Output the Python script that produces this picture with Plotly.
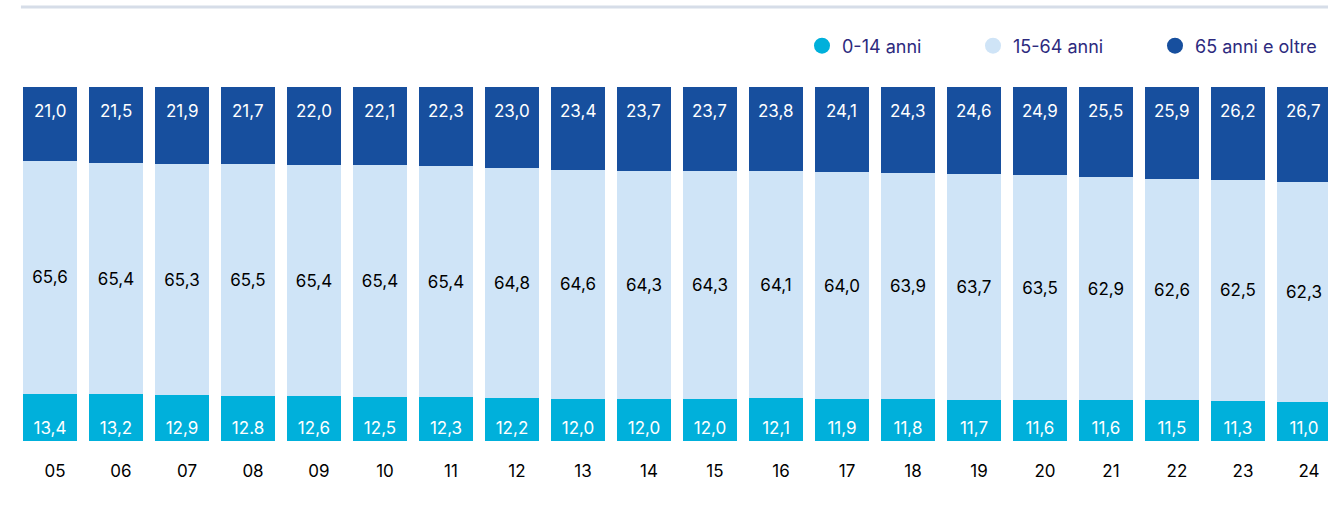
import plotly.graph_objects as go

anni = ["05", "06", "07", "08", "09", "10", "11", "12", "13", "14",
        "15", "16", "17", "18", "19", "20", "21", "22", "23", "24"]

giovani = [13.4, 13.2, 12.9, 12.8, 12.6, 12.5, 12.3, 12.2, 12.0, 12.0,
           12.0, 12.1, 11.9, 11.8, 11.7, 11.6, 11.6, 11.5, 11.3, 11.0]
adulti = [65.6, 65.4, 65.3, 65.5, 65.4, 65.4, 65.4, 64.8, 64.6, 64.3,
          64.3, 64.1, 64.0, 63.9, 63.7, 63.5, 62.9, 62.6, 62.5, 62.3]
anziani = [21.0, 21.5, 21.9, 21.7, 22.0, 22.1, 22.3, 23.0, 23.4, 23.7,
           23.7, 23.8, 24.1, 24.3, 24.6, 24.9, 25.5, 25.9, 26.2, 26.7]

# etichette come nel grafico originale (incluso "12.8")
giovani_txt = ["13,4", "13,2", "12,9", "12.8", "12,6", "12,5", "12,3", "12,2", "12,0", "12,0",
               "12,0", "12,1", "11,9", "11,8", "11,7", "11,6", "11,6", "11,5", "11,3", "11,0"]
adulti_txt = [f"{v:.1f}".replace(".", ",") for v in adulti]
anziani_txt = [f"{v:.1f}".replace(".", ",") for v in anziani]

nomi = ["0-14 anni", "15-64 anni", "65 anni e oltre"]
colori = ["#00b0db", "#cfe4f7", "#174f9e"]

FONT = "Inter"

fig = go.Figure()

fig.add_trace(go.Bar(
    x=anni, y=giovani, name=nomi[0], text=giovani_txt,
    marker=dict(color=colori[0], line=dict(width=0)),
    textposition="inside", insidetextanchor="start",
    textangle=0, constraintext="none",
    textfont=dict(family=FONT, size=17, color="white"),
    showlegend=False, hoverinfo="skip",
))
fig.add_trace(go.Bar(
    x=anni, y=adulti, name=nomi[1], text=adulti_txt,
    marker=dict(color=colori[1], line=dict(width=0)),
    textposition="inside", insidetextanchor="middle",
    textangle=0, constraintext="none",
    textfont=dict(family=FONT, size=17, color="black"),
    showlegend=False, hoverinfo="skip",
))
fig.add_trace(go.Bar(
    x=anni, y=anziani, name=nomi[2],
    marker=dict(color=colori[2], line=dict(width=0)),
    showlegend=False, hoverinfo="skip",
))

# etichette del segmento superiore, un po' sotto il bordo della barra
totali = [a + b + c for a, b, c in zip(giovani, adulti, anziani)]
for i, (tot, t) in enumerate(zip(totali, anziani_txt)):
    fig.add_annotation(
        x=i, y=tot, text=t, showarrow=False,
        yanchor="middle", yshift=-24,
        font=dict(family=FONT, size=17, color="white"),
    )

# legenda con pallini, una per voce per posizionarle come nell'originale
leg_x = [802, 973, 1155]
for i, (nome, col) in enumerate(zip(nomi, colori)):
    lname = "legend" if i == 0 else f"legend{i + 1}"
    fig.add_trace(go.Scatter(
        x=[None], y=[None], mode="markers", name=nome,
        marker=dict(color=col, size=18, symbol="circle"),
        legend=lname, showlegend=True,
    ))

leg_common = dict(
    orientation="h", xref="container", yref="container",
    yanchor="middle", y=1 - 46 / 523, bgcolor="rgba(0,0,0,0)",
    font=dict(family=FONT, size=18, color="#2d2a7e"),
    itemsizing="trace",
)
layout_legends = {}
for i, lx in enumerate(leg_x):
    lname = "legend" if i == 0 else f"legend{i + 1}"
    layout_legends[lname] = dict(leg_common, x=lx / 1328, xanchor="left")

fig.update_layout(
    width=1328, height=523,
    barmode="stack", bargap=0.18,
    plot_bgcolor="white", paper_bgcolor="white",
    margin=dict(l=17, r=0, t=86, b=82),
    font=dict(family=FONT),
    xaxis=dict(
        type="category", range=[-0.5, 19.364],
        showgrid=False, zeroline=False, showline=False, ticks="",
        ticklabelstandoff=18, ticklabelshift=5,
        tickfont=dict(family=FONT, size=17, color="black"),
    ),
    yaxis=dict(range=[0, 100.3], visible=False, fixedrange=True),
    shapes=[dict(
        type="line", xref="paper", yref="paper",
        x0=0.003, x1=1, y0=1 + 79 / 355, y1=1 + 79 / 355,
        line=dict(color="#d6dde8", width=3),
    )],
    **layout_legends,
)

fig.write_html("out.html", config={"displayModeBar": False},
               post_script="document.body.style.margin='0';")
